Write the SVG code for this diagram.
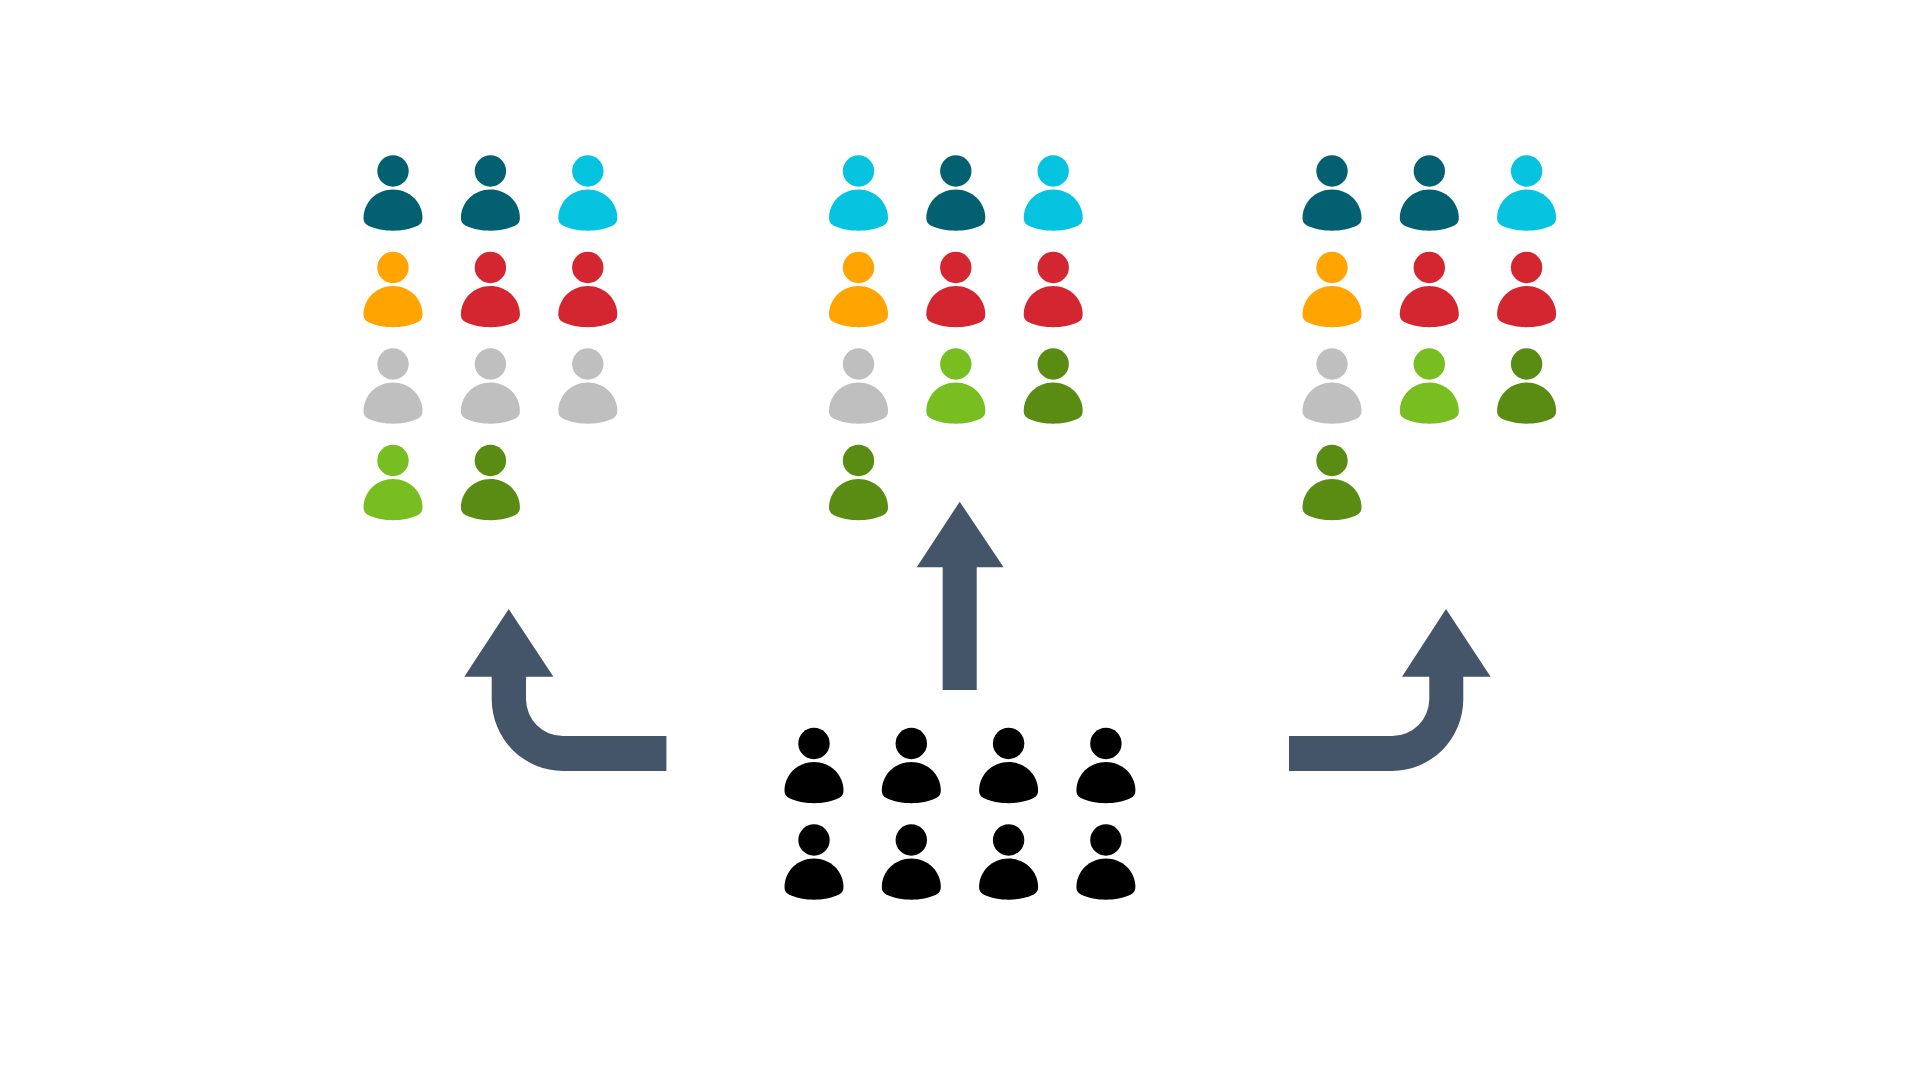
<svg xmlns="http://www.w3.org/2000/svg" xmlns:xlink="http://www.w3.org/1999/xlink" width="1920" height="1080" viewBox="0 0 1920 1080">
<style>
.t{fill:#036070}.c{fill:#06C4E0}.o{fill:#FFA400}.r{fill:#D32630}.g{fill:#BFBFBF}.l{fill:#78BE20}.d{fill:#5A8C14}.k{fill:#000}.a{fill:#445469}
</style>
<defs>
<g id="p"><circle cx="0" cy="0" r="15.7"/><path d="M-29.5,47C-29.5,31.2-16.3,18.5 0,18.5C16.3,18.5 29.5,31.2 29.5,47C29.5,50 28.5,52.5 25,54.5C18,58 8,59.7 0,59.7C-8,59.7-18,58-25,54.5C-28.5,52.5-29.5,50-29.5,47Z"/></g>
</defs>
<rect width="1920" height="1080" fill="#fff"/>
<g id="group-left">
<use href="#p" class="t" x="393" y="171"/><use href="#p" class="t" x="490.4" y="171"/><use href="#p" class="c" x="587.8" y="171"/>
<use href="#p" class="o" x="393" y="267.5"/><use href="#p" class="r" x="490.4" y="267.5"/><use href="#p" class="r" x="587.8" y="267.5"/>
<use href="#p" class="g" x="393" y="364"/><use href="#p" class="g" x="490.4" y="364"/><use href="#p" class="g" x="587.8" y="364"/>
<use href="#p" class="l" x="393" y="460.5"/><use href="#p" class="d" x="490.4" y="460.5"/>
</g>
<g id="group-middle">
<use href="#p" class="c" x="858.5" y="171"/><use href="#p" class="t" x="955.8" y="171"/><use href="#p" class="c" x="1053.2" y="171"/>
<use href="#p" class="o" x="858.5" y="267.5"/><use href="#p" class="r" x="955.8" y="267.5"/><use href="#p" class="r" x="1053.2" y="267.5"/>
<use href="#p" class="g" x="858.5" y="364"/><use href="#p" class="l" x="955.8" y="364"/><use href="#p" class="d" x="1053.2" y="364"/>
<use href="#p" class="d" x="858.5" y="460.5"/>
</g>
<g id="group-right">
<use href="#p" class="t" x="1332" y="171"/><use href="#p" class="t" x="1429.3" y="171"/><use href="#p" class="c" x="1526.6" y="171"/>
<use href="#p" class="o" x="1332" y="267.5"/><use href="#p" class="r" x="1429.3" y="267.5"/><use href="#p" class="r" x="1526.6" y="267.5"/>
<use href="#p" class="g" x="1332" y="364"/><use href="#p" class="l" x="1429.3" y="364"/><use href="#p" class="d" x="1526.6" y="364"/>
<use href="#p" class="d" x="1332" y="460.5"/>
</g>
<g id="group-bottom">
<use href="#p" class="k" x="814" y="743.5"/><use href="#p" class="k" x="911.3" y="743.5"/><use href="#p" class="k" x="1008.6" y="743.5"/><use href="#p" class="k" x="1105.9" y="743.5"/>
<use href="#p" class="k" x="814" y="840"/><use href="#p" class="k" x="911.3" y="840"/><use href="#p" class="k" x="1008.6" y="840"/><use href="#p" class="k" x="1105.9" y="840"/>
</g>
<g id="connectors">
<path class="a" d="M508.7,609L553.4,676.7H526V699A37,37 0 0 0 563,736H666.4V771H563A71.3,72 0 0 1 491.7,699V676.7H464.3Z"/>
<path class="a" d="M959.7,501.7L1003.6,567.3H976.7V690H942.7V567.3H916.7Z"/>
<path class="a" d="M1446,609L1490.6,676.7H1463.3V699A71.3,72 0 0 1 1392,771H1289V736H1392A37.3,37 0 0 0 1429.3,699V676.7H1402Z"/>
</g>
</svg>
